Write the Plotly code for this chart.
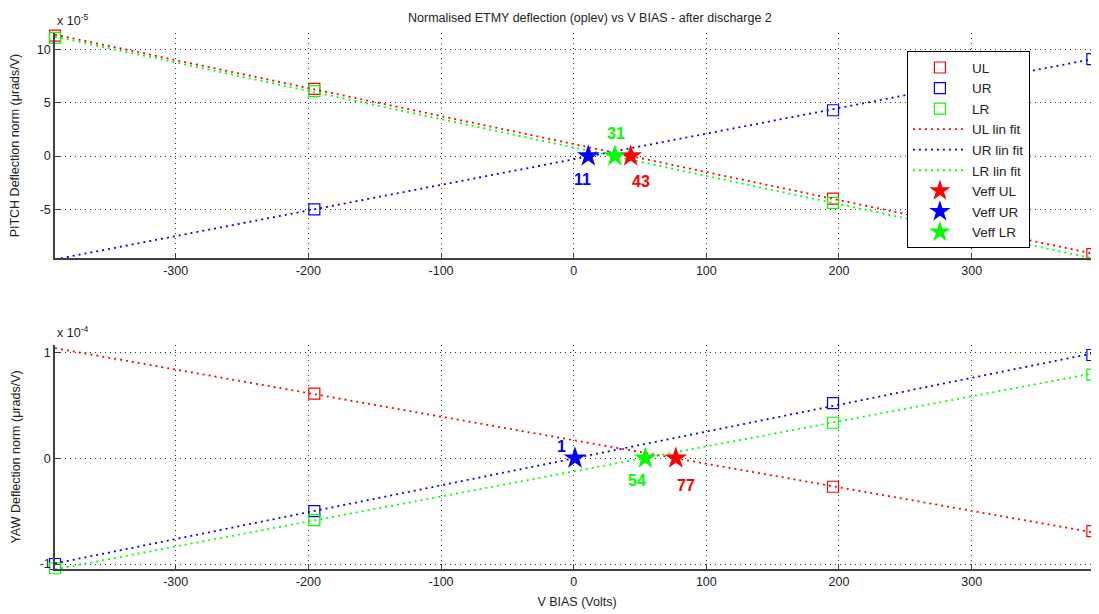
import plotly.graph_objects as go

# ---------------- data ----------------
v_bias = [-391, -195.5, 195.5, 391]
fit_x = [-391, 391]

# PITCH (units of 1e-5 urad/V)
pitch_UL = [11.3, 6.3, -4.0, -9.2]
pitch_UR = [-9.6, -5.0, 4.3, 9.1]
pitch_LR = [11.1, 6.1, -4.4, -9.6]
pitch_fit_UL = [11.4, -9.15]
pitch_fit_UR = [-9.7, 9.1]
pitch_fit_LR = [11.2, -9.6]
pitch_veff = {"UL": 43, "UR": 11, "LR": 31}

# YAW (units of 1e-4 urad/V)
yaw_UL = [None, 0.61, -0.27, -0.69]
yaw_UR = [-1.0, -0.50, 0.52, 0.975]
yaw_LR = [-1.04, -0.585, 0.335, 0.79]
yaw_fit_UL = [1.04, -0.70]
yaw_fit_UR = [-0.995, 0.99]
yaw_fit_LR = [-1.05, 0.80]
yaw_veff = {"UL": 77, "UR": 1, "LR": 54}

x_ticks = [-300, -200, -100, 0, 100, 200, 300]
pitch_ticks = [-5, 0, 5, 10]
yaw_ticks = [-1, 0, 1]

colors = {"UL": "#FF0000", "UR": "#0000FF", "LR": "#00FF00"}
FONT = "Liberation Sans, Arial, sans-serif"
TXT = "#222222"

fig = go.Figure()

def add_panel(row_axes, data, fits, veff, show):
    xa, ya = row_axes
    for name, vals in data.items():
        fig.add_trace(go.Scatter(
            x=v_bias, y=vals, mode="markers", name=name, showlegend=show,
            cliponaxis=False,
            marker=dict(symbol="square-open", size=11, color=colors[name],
                        line=dict(width=1.2, color=colors[name])),
            xaxis=xa, yaxis=ya))
    for name, vals in fits.items():
        fig.add_trace(go.Scatter(
            x=fit_x, y=vals, mode="lines", name=name + " lin fit", showlegend=show,
            line=dict(color=colors[name], width=1.8, dash="2px,4px"),
            xaxis=xa, yaxis=ya))
    for name, v in veff.items():
        fig.add_trace(go.Scatter(
            x=[v], y=[0], mode="markers", name="Veff " + name, showlegend=show,
            cliponaxis=False,
            marker=dict(symbol="star", size=17, color=colors[name],
                        line=dict(width=0)),
            xaxis=xa, yaxis=ya))

add_panel(("x", "y"),
          {"UL": pitch_UL, "UR": pitch_UR, "LR": pitch_LR},
          {"UL": pitch_fit_UL, "UR": pitch_fit_UR, "LR": pitch_fit_LR},
          pitch_veff, True)
add_panel(("x2", "y2"),
          {"UL": yaw_UL, "UR": yaw_UR, "LR": yaw_LR},
          {"UL": yaw_fit_UL, "UR": yaw_fit_UR, "LR": yaw_fit_LR},
          yaw_veff, False)

# Veff value labels (offsets in data units from each star)
label_offsets_pitch = {"UL": (8, -2.35), "UR": (-4, -2.16), "LR": (1, 2.16)}
label_offsets_yaw = {"UL": (8, -0.26), "UR": (-10.5, 0.11), "LR": (-6, -0.21)}
for name, v in pitch_veff.items():
    dx, dy = label_offsets_pitch[name]
    fig.add_annotation(x=v + dx, y=dy, xref="x", yref="y", text="<b>%d</b>" % v,
                       showarrow=False, font=dict(family=FONT, size=16, color=colors[name]))
for name, v in yaw_veff.items():
    dx, dy = label_offsets_yaw[name]
    fig.add_annotation(x=v + dx, y=dy, xref="x2", yref="y2", text="<b>%d</b>" % v,
                       showarrow=False, font=dict(family=FONT, size=16, color=colors[name]))

axis_common = dict(
    showline=True, linecolor="#404040", linewidth=1.5, mirror=False,
    ticks="inside", ticklen=5, tickcolor="#404040",
    showgrid=True, gridcolor="#303030", griddash="1px,4px", gridwidth=1,
    zeroline=False, automargin=False,
    tickfont=dict(family=FONT, size=12.5, color=TXT),
)

def labels(vals):
    return [str(v) for v in vals]

# page body has an 8px default margin; figure sized/offset to compensate
fig.update_layout(
    width=1091, height=606,
    paper_bgcolor="white", plot_bgcolor="white",
    margin=dict(l=47, r=0, t=25, b=45),
    font=dict(family=FONT, size=12, color=TXT),
    showlegend=True,
    legend=dict(x=0.816, y=0.966, xanchor="left", yanchor="top",
                bgcolor="white", bordercolor="black", borderwidth=1,
                font=dict(family=FONT, size=13.5, color=TXT),
                tracegroupgap=0, itemwidth=54),
    xaxis=dict(domain=[0, 1], range=[-391, 396], tickvals=x_ticks,
               ticktext=labels(x_ticks), anchor="y", **axis_common),
    yaxis=dict(domain=[0.58, 1], range=[-9.58, 11.55], tickvals=pitch_ticks,
               ticktext=labels(pitch_ticks), anchor="x",
               title=dict(text="PITCH Deflection norm (\u03bcrads/V)", standoff=16,
                          font=dict(family=FONT, size=12.5, color=TXT)),
               **axis_common),
    xaxis2=dict(domain=[0, 1], range=[-391, 396], tickvals=x_ticks,
                ticktext=labels(x_ticks), anchor="y2",
                title=dict(text="V BIAS (Volts)", standoff=9,
                           font=dict(family=FONT, size=12.5, color=TXT)),
                **axis_common),
    yaxis2=dict(domain=[0, 0.418], range=[-1.047, 1.07], tickvals=yaw_ticks,
                ticktext=labels(yaw_ticks), anchor="x2",
                title=dict(text="YAW Deflection norm (\u03bcrads/V)", standoff=16,
                           font=dict(family=FONT, size=12.5, color=TXT)),
                **axis_common),
)

fig.add_annotation(x=0.512, y=1 + (33 - 18) / 536, xref="paper", yref="paper",
                   yanchor="middle",
                   text="Normalised ETMY deflection (oplev) vs V BIAS - after discharge 2",
                   showarrow=False, font=dict(family=FONT, size=12.5, color=TXT))
fig.add_annotation(x=0, y=1 + (33 - 20) / 536, xref="paper", yref="paper",
                   xanchor="left", yanchor="middle",
                   text="x 10<sup>-5</sup>", showarrow=False,
                   font=dict(family=FONT, size=12.5, color=TXT))
fig.add_annotation(x=0, y=0.418 + (345 - 332) / 536, xref="paper", yref="paper",
                   xanchor="left", yanchor="middle",
                   text="x 10<sup>-4</sup>", showarrow=False,
                   font=dict(family=FONT, size=12.5, color=TXT))

fig.write_html("out.html")
